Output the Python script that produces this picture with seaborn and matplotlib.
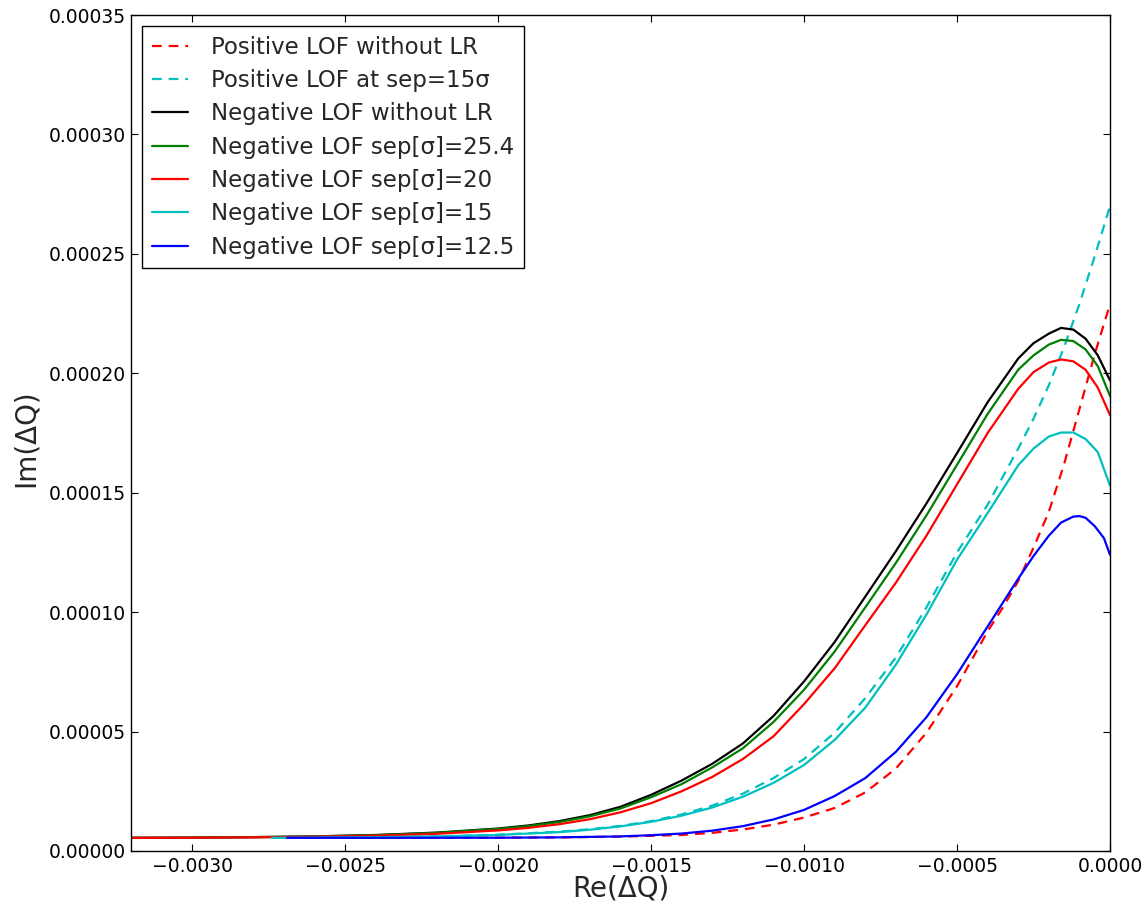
import matplotlib
matplotlib.use("Agg")
import matplotlib.pyplot as plt
from matplotlib.ticker import MultipleLocator, FuncFormatter
import seaborn as sns

# Positive LOF without long-range interactions
re_pos_nolr = [-0.0025, -0.0020, -0.0018, -0.0016, -0.0014, -0.0013, -0.0012, -0.0011,
               -0.0010, -0.0009, -0.0008, -0.0007, -0.0006, -0.0005, -0.0004, -0.00035,
               -0.0003, -0.00025, -0.0002, -0.00015, -0.0001, -0.00005, 0.0]
im_pos_nolr = [5.5e-6, 5.55e-6, 5.7e-6, 6.0e-6, 6.7e-6, 7.6e-6, 9.0e-6, 1.10e-5,
               1.40e-5, 1.80e-5, 2.45e-5, 3.45e-5, 4.95e-5, 6.9e-5, 9.2e-5, 1.02e-4,
               1.13e-4, 1.27e-4, 1.42e-4, 1.62e-4, 1.85e-4, 2.08e-4, 2.29e-4]

# Positive LOF, long-range beam at 15 sigma
re_pos_15 = [-0.0025, -0.0024, -0.0022, -0.0020, -0.0018, -0.0017, -0.0016, -0.0015,
             -0.0014, -0.0013, -0.0012, -0.0011, -0.0010, -0.0009, -0.0008, -0.0007,
             -0.0006, -0.0005, -0.0004, -0.0003, -0.00025, -0.0002, -0.00015, -0.0001,
             -0.00005, 0.0]
im_pos_15 = [5.7e-6, 5.8e-6, 6.1e-6, 6.8e-6, 8.1e-6, 9.1e-6, 1.05e-5, 1.25e-5,
             1.53e-5, 1.90e-5, 2.40e-5, 3.05e-5, 3.85e-5, 4.95e-5, 6.4e-5, 8.1e-5,
             1.02e-4, 1.25e-4, 1.45e-4, 1.685e-4, 1.81e-4, 1.95e-4, 2.11e-4, 2.29e-4,
             2.49e-4, 2.70e-4]

# Negative LOF without long-range interactions
re_neg_nolr = [-0.0032, -0.0030, -0.0028, -0.0026, -0.0024, -0.0022, -0.0020, -0.0019,
               -0.0018, -0.0017, -0.0016, -0.0015, -0.0014, -0.0013, -0.0012, -0.0011,
               -0.0010, -0.0009, -0.0008, -0.0007, -0.0006, -0.0005, -0.0004, -0.0003,
               -0.00025, -0.0002, -0.00016, -0.00012, -0.00008, -0.00004, 0.0]
im_neg_nolr = [5.5e-6, 5.6e-6, 5.8e-6, 6.1e-6, 6.7e-6, 7.7e-6, 9.4e-6, 1.07e-5,
               1.25e-5, 1.50e-5, 1.85e-5, 2.35e-5, 2.95e-5, 3.65e-5, 4.5e-5, 5.65e-5,
               7.1e-5, 8.75e-5, 1.065e-4, 1.255e-4, 1.455e-4, 1.666e-4, 1.879e-4, 2.062e-4,
               2.126e-4, 2.166e-4, 2.19e-4, 2.183e-4, 2.145e-4, 2.075e-4, 1.97e-4]

# Negative LOF, separation 25.4 sigma
re_neg_254 = [-0.0032, -0.0030, -0.0028, -0.0026, -0.0024, -0.0022, -0.0020, -0.0019,
              -0.0018, -0.0017, -0.0016, -0.0015, -0.0014, -0.0013, -0.0012, -0.0011,
              -0.0010, -0.0009, -0.0008, -0.0007, -0.0006, -0.0005, -0.0004, -0.0003,
              -0.00025, -0.0002, -0.00016, -0.00012, -0.00008, -0.00004, 0.0]
im_neg_254 = [5.5e-6, 5.6e-6, 5.8e-6, 6.1e-6, 6.6e-6, 7.6e-6, 9.2e-6, 1.04e-5,
              1.21e-5, 1.45e-5, 1.78e-5, 2.25e-5, 2.80e-5, 3.5e-5, 4.3e-5, 5.4e-5,
              6.75e-5, 8.35e-5, 1.02e-4, 1.206e-4, 1.405e-4, 1.617e-4, 1.83e-4, 2.015e-4,
              2.075e-4, 2.12e-4, 2.14e-4, 2.135e-4, 2.10e-4, 2.03e-4, 1.905e-4]

# Negative LOF, separation 20 sigma
re_neg_20 = [-0.0032, -0.0030, -0.0028, -0.0026, -0.0024, -0.0022, -0.0020, -0.0019,
             -0.0018, -0.0017, -0.0016, -0.0015, -0.0014, -0.0013, -0.0012, -0.0011,
             -0.0010, -0.0009, -0.0008, -0.0007, -0.0006, -0.0005, -0.0004, -0.0003,
             -0.00025, -0.0002, -0.00016, -0.00012, -0.00008, -0.00004, 0.0]
im_neg_20 = [5.5e-6, 5.55e-6, 5.7e-6, 5.95e-6, 6.4e-6, 7.2e-6, 8.6e-6, 9.7e-6,
             1.12e-5, 1.33e-5, 1.62e-5, 2.00e-5, 2.50e-5, 3.10e-5, 3.85e-5, 4.8e-5,
             6.15e-5, 7.65e-5, 9.45e-5, 1.123e-4, 1.32e-4, 1.535e-4, 1.75e-4, 1.935e-4,
             2.005e-4, 2.045e-4, 2.058e-4, 2.05e-4, 2.015e-4, 1.94e-4, 1.825e-4]

# Negative LOF, separation 15 sigma
re_neg_15 = [-0.00274, -0.0026, -0.0024, -0.0022, -0.0020, -0.0018, -0.0017, -0.0016,
             -0.0015, -0.0014, -0.0013, -0.0012, -0.0011, -0.0010, -0.0009, -0.0008,
             -0.0007, -0.0006, -0.0005, -0.0004, -0.0003, -0.00025, -0.0002, -0.00016,
             -0.00012, -0.00008, -0.00004, 0.0]
im_neg_15 = [5.5e-6, 5.6e-6, 5.8e-6, 6.1e-6, 6.7e-6, 7.9e-6, 8.9e-6, 1.03e-5,
             1.22e-5, 1.48e-5, 1.82e-5, 2.27e-5, 2.85e-5, 3.6e-5, 4.65e-5, 6.0e-5,
             7.8e-5, 9.9e-5, 1.22e-4, 1.415e-4, 1.615e-4, 1.685e-4, 1.735e-4, 1.752e-4,
             1.752e-4, 1.725e-4, 1.67e-4, 1.53e-4]

# Negative LOF, separation 12.5 sigma
re_neg_125 = [-0.00269, -0.0024, -0.0020, -0.0018, -0.0016, -0.0015, -0.0014, -0.0013,
              -0.0012, -0.0011, -0.0010, -0.0009, -0.0008, -0.0007, -0.0006, -0.0005,
              -0.0004, -0.0003, -0.00025, -0.0002, -0.00016, -0.00012, -0.0001, -0.00008,
              -0.00005, -0.00002, 0.0]
im_neg_125 = [5.5e-6, 5.5e-6, 5.55e-6, 5.7e-6, 6.1e-6, 6.6e-6, 7.3e-6, 8.5e-6,
              1.04e-5, 1.32e-5, 1.72e-5, 2.30e-5, 3.05e-5, 4.15e-5, 5.6e-5, 7.4e-5,
              9.4e-5, 1.14e-4, 1.235e-4, 1.32e-4, 1.375e-4, 1.40e-4, 1.402e-4, 1.395e-4,
              1.36e-4, 1.31e-4, 1.24e-4]

series_labels = [
    "Positive LOF without LR",
    "Positive LOF at sep=15σ",
    "Negative LOF without LR",
    "Negative LOF sep[σ]=25.4",
    "Negative LOF sep[σ]=20",
    "Negative LOF sep[σ]=15",
    "Negative LOF sep[σ]=12.5",
]

sns.set_style("white")
plt.rcParams.update({
    "font.family": ["DejaVu Sans"],
    "xtick.direction": "in",
    "ytick.direction": "in",
    "xtick.top": True,
    "ytick.right": True,
    "xtick.bottom": True,
    "ytick.left": True,
    "xtick.major.size": 5,
    "ytick.major.size": 5,
    "xtick.major.width": 0.8,
    "ytick.major.width": 0.8,
    "xtick.color": "black",
    "ytick.color": "black",
    "axes.edgecolor": "black",
    "axes.linewidth": 1.0,
    "lines.scale_dashes": False,
})

fig = plt.figure(figsize=(11.44, 9.05), dpi=100)
ax = fig.add_axes([0.1145, 0.0597, 0.8558, 0.9237])

dash = (0, (7, 5))
lw = 1.6
curves = [
    (re_pos_nolr, im_pos_nolr, "#ff0000", dash),
    (re_pos_15, im_pos_15, "#00bfbf", dash),
    (re_neg_nolr, im_neg_nolr, "#000000", "-"),
    (re_neg_254, im_neg_254, "#008000", "-"),
    (re_neg_20, im_neg_20, "#ff0000", "-"),
    (re_neg_15, im_neg_15, "#00bfbf", "-"),
    (re_neg_125, im_neg_125, "#0000ff", "-"),
]
for (xs, ys, col, ls), lab in zip(curves, series_labels):
    sns.lineplot(x=xs, y=ys, ax=ax, color=col, linestyle=ls, linewidth=lw,
                 sort=False, estimator=None, label=lab)

ax.set_xlim(-0.0032, 0.0)
ax.set_ylim(0.0, 0.00035)
ax.xaxis.set_major_locator(MultipleLocator(0.0005))
ax.yaxis.set_major_locator(MultipleLocator(0.00005))


def fmt_x(v, pos):
    s = f"{abs(v):.4f}"
    return ("\u2212" + s) if v < -1e-12 else s


ax.xaxis.set_major_formatter(FuncFormatter(fmt_x))
ax.yaxis.set_major_formatter(FuncFormatter(lambda v, pos: f"{abs(v):.5f}"))
ax.tick_params(axis="both", labelsize=13.5, pad=4)

ax.set_xlabel("Re(ΔQ)", fontsize=20)
ax.set_ylabel("Im(ΔQ)", fontsize=20)
ax.xaxis.label.set_va("center")
ax.yaxis.label.set_va("center")
ax.xaxis.set_label_coords(0.5, -0.0445)
ax.yaxis.set_label_coords(-0.108, 0.494)

leg = ax.legend(loc="upper left", fontsize=16.5, frameon=True, fancybox=False,
                edgecolor="black", framealpha=1.0, handlelength=1.6,
                handletextpad=1.0, labelspacing=0.45, borderpad=0.4,
                borderaxespad=0.5)
leg.get_frame().set_linewidth(1.0)

fig.savefig("out.png", dpi=100)
